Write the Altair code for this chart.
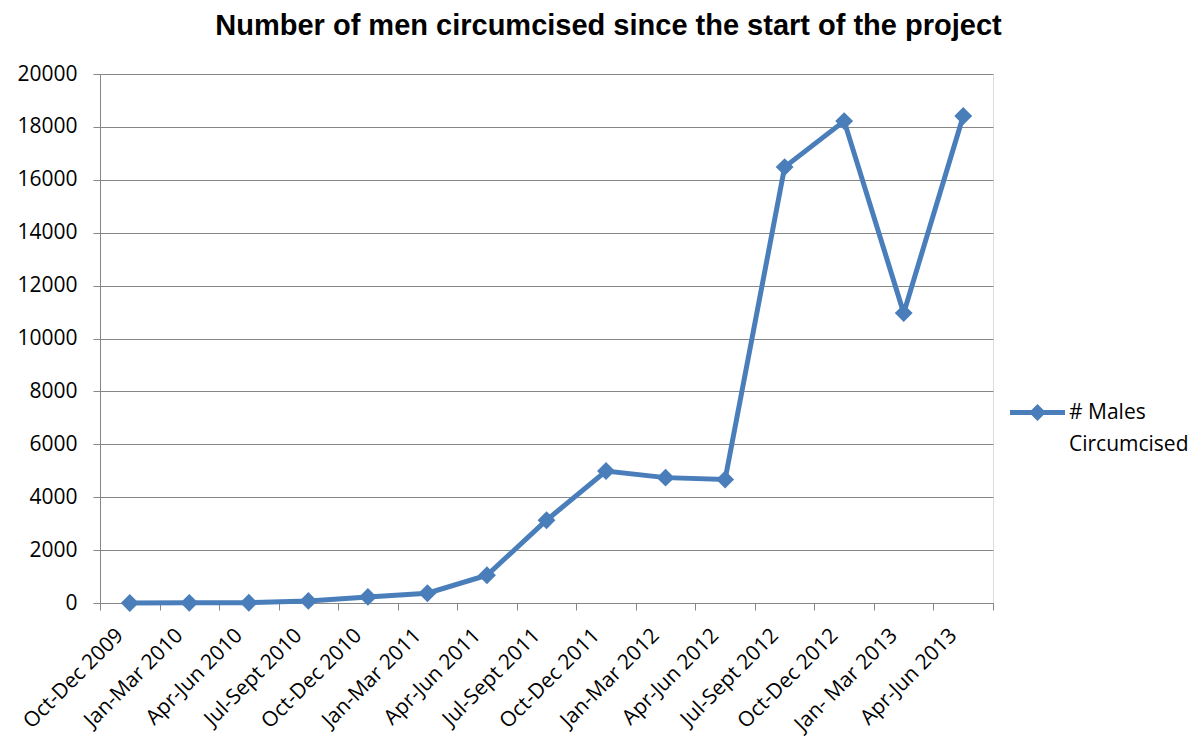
import altair as alt
import pandas as pd

periods = ["Oct-Dec 2009", "Jan-Mar 2010", "Apr-Jun 2010", "Jul-Sept 2010",
           "Oct-Dec 2010", "Jan-Mar 2011", "Apr-Jun 2011", "Jul-Sept 2011",
           "Oct-Dec 2011", "Jan-Mar 2012", "Apr-Jun 2012", "Jul-Sept 2012",
           "Oct-Dec 2012", "Jan- Mar 2013", "Apr-Jun 2013"]
males = [0, 5, 10, 80, 230, 370, 1050, 3130, 4990, 4740, 4670, 16480, 18220, 10960, 18410]
series_name = "# Males Circumcised"
legend_lines = ["# Males", "Circumcised"]
y_ticks = list(range(0, 20001, 2000))

df = pd.DataFrame({"period": periods, "males": males, "series": legend_lines[0]})

BLUE = "#4A7EBB"
GREY = "#868686"
FONT = "Open Sans"

legend_path = ("M-2.75,-0.25L-0.6,-0.25L0,-0.85L0.6,-0.25L2.75,-0.25L2.75,0.25"
               "L0.6,0.25L0,0.85L-0.6,0.25L-2.75,0.25Z")

x_enc = alt.X("period:N", sort=periods, bandPosition=0.5,
              scale=alt.Scale(type="band", paddingInner=0, paddingOuter=0),
              axis=alt.Axis(title=None, tickBand="extent", labelAngle=315,
                            labelAlign="right", labelBaseline="middle",
                            labelPadding=22, labelOffset=-10, tickSize=7,
                            tickColor=GREY, domainColor=GREY, labelFontSize=21,
                            labelFont=FONT, labelColor="black", grid=False,
                            labelOverlap=False, labelBound=False, labelFlush=False))
y_enc = alt.Y("males:Q", scale=alt.Scale(domain=[0, 20000], nice=False),
              axis=alt.Axis(title=None, values=y_ticks, format="d", tickSize=7,
                            tickColor=GREY, domainColor=GREY, gridColor=GREY,
                            gridWidth=1, labelFontSize=21, labelFont=FONT,
                            labelColor="black", labelPadding=16))
# the legend label "# Males Circumcised" is wrapped over two legend rows;
# the second row carries no symbol (transparent colour)
color_enc = alt.Color("series:N",
                      scale=alt.Scale(domain=legend_lines, range=[BLUE, "rgba(0,0,0,0)"]),
                      legend=alt.Legend(title=None, orient="none", legendX=927,
                                        legendY=328, symbolType=legend_path,
                                        symbolSize=400, symbolStrokeWidth=0,
                                        labelFontSize=21, labelFont=FONT,
                                        labelColor="black", labelOffset=21,
                                        rowPadding=10))

line = alt.Chart(df).mark_line(strokeWidth=5).encode(x=x_enc, y=y_enc, color=color_enc)
pts = alt.Chart(df).mark_point(shape="diamond", filled=True, size=320, opacity=1).encode(
    x=x_enc, y=y_enc, color=color_enc)

chart = alt.layer(line, pts).properties(
    width=893, height=529,
    title=alt.TitleParams("Number of men circumcised since the start of the project",
                          font="Liberation Sans", fontSize=29, fontWeight="bold",
                          color="black", anchor="middle", dx=62, offset=22),
    autosize=alt.AutoSizeParams(type="none"),
    padding={"left": 92, "top": 66, "right": 200, "bottom": 133},
).configure_view(stroke=None).configure(background="white")

chart.save("out.html", embed_options={"renderer": "svg", "actions": False})
